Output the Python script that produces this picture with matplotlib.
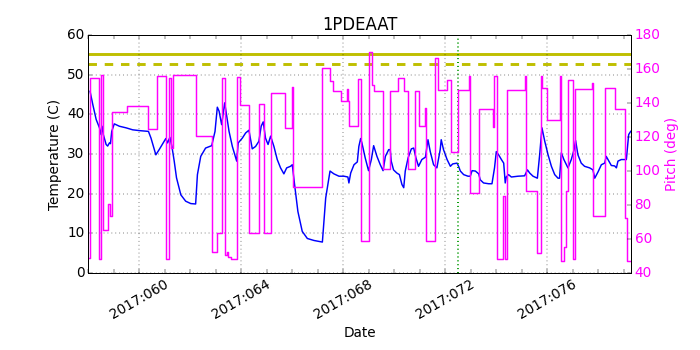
import matplotlib
matplotlib.use('Agg')
import matplotlib.pyplot as plt
from matplotlib.ticker import MultipleLocator, FuncFormatter

# ---- data (day of year 2017) ----
temp_days = [58.07, 58.18, 58.31, 58.44, 58.50, 58.54, 58.59, 58.70, 58.76, 58.83, 58.87, 58.92,
             59.02, 59.22, 59.48, 59.74, 60.00, 60.36, 60.46, 60.65, 60.78, 61.04, 61.11, 61.20,
             61.28, 61.37, 61.46, 61.63, 61.82, 62.02, 62.21, 62.28, 62.41, 62.60, 62.84, 62.97,
             63.06, 63.13, 63.23, 63.35, 63.52, 63.65, 63.82, 63.88, 64.04, 64.17, 64.30, 64.43,
             64.56, 64.69, 64.78, 64.86, 64.95, 65.05, 65.15, 65.28, 65.41, 65.54, 65.67, 65.78,
             65.93, 66.00, 66.09, 66.22, 66.39, 66.59, 66.85, 67.18, 67.31, 67.48, 67.63, 67.83,
             68.03, 68.18, 68.22, 68.29, 68.42, 68.55, 68.61, 68.68, 68.73, 68.86, 68.99, 69.10,
             69.19, 69.32, 69.45, 69.56, 69.65, 69.78, 69.84, 69.88, 69.97, 70.10, 70.20, 70.30,
             70.37, 70.43, 70.54, 70.67, 70.76, 70.85, 70.95, 71.08, 71.22, 71.32, 71.41, 71.54,
             71.67, 71.80, 71.84, 71.93, 72.07, 72.20, 72.29, 72.46, 72.52, 72.59, 72.72, 72.89,
             72.98, 73.05, 73.18, 73.31, 73.37, 73.50, 73.70, 73.83, 73.93, 74.00, 74.09, 74.20,
             74.29, 74.35, 74.39, 74.48, 74.59, 74.85, 75.11, 75.22, 75.31, 75.44, 75.61, 75.70,
             75.79, 75.90, 76.03, 76.16, 76.29, 76.42, 76.48, 76.55, 76.65, 76.81, 76.94, 77.05,
             77.11, 77.20, 77.33, 77.46, 77.66, 77.79, 77.86, 77.99, 78.12, 78.25, 78.31, 78.38,
             78.51, 78.64, 78.71, 78.77, 78.90, 79.10, 79.19, 79.27]
temp_vals = [45.8, 42.4, 38.7, 36.6, 34.9, 37.0, 34.9, 32.4, 32.0, 32.8, 32.6, 35.7,
             37.6, 37.0, 36.6, 36.1, 35.9, 35.7, 34.0, 29.8, 31.1, 33.9, 32.8, 34.2,
             31.9, 28.2, 24.0, 19.7, 18.1, 17.5, 17.4, 24.8, 29.4, 31.5, 32.1, 35.7,
             41.8, 40.8, 37.4, 42.9, 35.7, 31.9, 28.2, 32.8, 34.0, 35.3, 36.0, 31.3,
             31.9, 33.2, 37.0, 38.1, 34.0, 32.4, 34.5, 31.9, 28.6, 26.5, 25.0, 26.5,
             26.9, 27.3, 22.3, 15.5, 10.5, 8.7, 8.2, 7.8, 18.9, 25.7, 25.0, 24.4,
             24.4, 24.2, 22.7, 25.2, 27.3, 28.0, 31.9, 33.9, 32.8, 29.0, 25.8, 28.6,
             32.1, 29.4, 27.3, 25.8, 29.4, 31.1, 31.1, 28.2, 26.0, 25.2, 24.8, 22.3,
             21.5, 25.7, 29.0, 31.3, 31.5, 29.0, 26.9, 28.6, 29.2, 33.6, 30.6, 27.3,
             26.5, 31.1, 33.6, 31.1, 28.6, 26.9, 27.5, 27.7, 26.9, 25.7, 24.8, 24.4,
             24.4, 25.8, 25.7, 25.0, 23.5, 22.7, 22.5, 22.5, 26.5, 30.6, 29.8, 28.6,
             27.7, 22.7, 24.2, 24.8, 24.2, 24.4, 24.5, 26.0, 25.2, 24.4, 23.9, 29.8,
             36.6, 33.2, 29.8, 26.9, 24.8, 23.9, 23.9, 30.3, 28.6, 26.5, 28.6, 31.1,
             33.4, 29.8, 27.7, 26.9, 26.5, 26.0, 23.9, 25.5, 27.3, 27.7, 29.4, 28.6,
             27.1, 27.0, 26.5, 28.2, 28.6, 28.6, 34.9, 35.7]

pitch_days = [58.00, 58.06, 58.41, 58.50, 58.57, 58.79, 58.85, 58.92, 59.51, 60.36, 60.68, 61.04,
              61.17, 61.25, 61.33, 62.21, 62.84, 63.06, 63.26, 63.35, 63.45, 63.49, 63.58, 63.82,
              63.95, 64.31, 64.69, 64.89, 65.15, 65.70, 66.00, 66.03, 67.18, 67.48, 67.61, 67.90,
              68.16, 68.20, 68.24, 68.58, 68.68, 69.02, 69.12, 69.19, 69.56, 69.84, 70.14, 70.37,
              70.52, 70.82, 70.98, 71.22, 71.25, 71.60, 71.73, 72.08, 72.22, 72.51, 72.93, 72.97,
              73.32, 73.86, 73.92, 74.02, 74.25, 74.35, 74.43, 75.14, 75.18, 75.61, 75.74, 75.79,
              76.00, 76.48, 76.54, 76.67, 76.75, 76.81, 76.99, 77.10, 77.75, 77.79, 78.25, 78.64,
              79.06, 79.14, 79.27]
pitch_vals = [48.9, 155.0, 48.4, 156.2, 65.2, 80.8, 73.8, 135.0, 138.5, 124.5, 156.0, 48.4,
              155.0, 113.5, 156.2, 120.3, 52.1, 63.6, 155.0, 50.3, 52.1, 49.3, 48.4, 155.5,
              139.0, 63.3, 139.6, 63.3, 146.0, 125.2, 149.7, 90.4, 160.6, 152.7, 146.9, 141.3,
              148.5, 141.3, 126.3, 154.3, 59.1, 170.0, 150.8, 147.3, 101.1, 147.3, 154.8, 147.3,
              101.1, 147.3, 126.6, 136.8, 59.1, 166.5, 147.6, 153.4, 111.2, 147.8, 156.0, 87.1,
              136.4, 125.9, 156.0, 48.2, 85.5, 48.2, 147.8, 155.7, 88.3, 51.9, 155.7, 149.0,
              129.8, 155.7, 47.0, 55.4, 88.3, 153.6, 48.2, 148.5, 152.0, 73.4, 149.0, 136.6,
              72.4, 47.0, 47.0]

limit_solid = 55.2
limit_dashed = 52.7
event_day = 72.51

# ---- plot ----
plt.style.use('classic')
plt.rcParams['lines.scale_dashes'] = False
fig = plt.figure(figsize=(10, 5), dpi=70, facecolor='white')
ax = fig.add_axes([0.1261, 0.22, 0.7749, 0.68])

ax.plot(temp_days, temp_vals, color='blue', lw=1.5)
ax.axhline(limit_solid, color='y', lw=3)
ax.axhline(limit_dashed, color='y', lw=3, linestyle=(0, (8.7, 8.0)))
ax.axvline(event_day, color=(0, 0.6, 0), linestyle=':', lw=2)

ax.set_xlim(58.0, 79.27)
ax.set_ylim(0, 60)
ax.xaxis.set_major_locator(MultipleLocator(4))
ax.xaxis.set_minor_locator(MultipleLocator(1))
ax.xaxis.set_major_formatter(FuncFormatter(lambda v, p: "2017:%03d" % int(round(v))))
ax.tick_params(which='both', length=4, labelsize=14)
ax.grid(True)
for lbl in ax.get_xticklabels():
    lbl.set_rotation(30)
    lbl.set_ha('center')
ax.set_xlabel('Date', fontsize=14)
ax.set_ylabel('Temperature (C)', fontsize=14)
ax.set_title('1PDEAAT', fontsize=17)

ax2 = ax.twinx()
ax2.plot(pitch_days, pitch_vals, color='magenta', lw=1.5, drawstyle='steps-post')
ax2.set_ylim(40, 180)
ax2.set_xlim(58.0, 79.27)
ax2.yaxis.set_major_locator(MultipleLocator(20))
ax2.tick_params(axis='y', labelcolor='magenta', length=4, labelsize=14)
ax2.set_ylabel('Pitch (deg)', color='magenta', fontsize=14)

fig.savefig('out.png', dpi=70, facecolor='white')
